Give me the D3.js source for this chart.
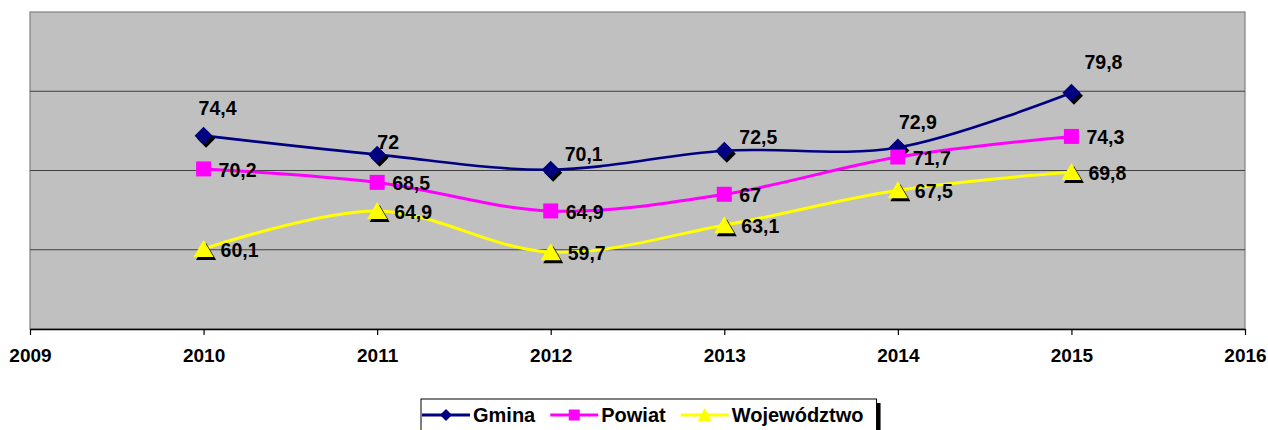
<!DOCTYPE html>
<html>
<head>
<meta charset="utf-8">
<script src="https://cdn.jsdelivr.net/npm/d3@7"></script>
<style>
  body { margin: 0; background: #fff; }
  svg { display: block; font-family: Arial, "Liberation Sans", sans-serif; }
</style>
</head>
<body>
<svg id="chart" width="1268" height="430"></svg>
<script>
// data
var years = [2010, 2011, 2012, 2013, 2014, 2015];
var gmina = [74.4, 72, 70.1, 72.5, 72.9, 79.8];
var powiat = [70.2, 68.5, 64.9, 67, 71.7, 74.3];
var wojewodztwo = [60.1, 64.9, 59.7, 63.1, 67.5, 69.8];
var seriesNames = ["Gmina", "Powiat", "Województwo"];
var xTicks = [2009, 2010, 2011, 2012, 2013, 2014, 2015, 2016];
var yGrid = [60, 70, 80];

// gmina labels were moved by hand in the original, nudges in px
var gminaNudge = [[14, -28], [11, -13], [33, -16], [34, -14], [20, -26], [32, -31]];

var svg = d3.select("svg#chart"),
    margin = { top: 12, right: 23, bottom: 101, left: 30 },
    width = 1268 - margin.left - margin.right,
    height = 430 - margin.top - margin.bottom,
    g = svg.append("g").attr("transform", "translate(" + margin.left + "," + margin.top + ")");

var x = d3.scaleLinear().domain([2009, 2016]).range([0, width]);
var y = d3.scaleLinear().domain([50, 90]).range([height, 0]);

var fmt = function (v) { return String(v).replace(".", ","); };

// plot area
g.append("rect")
    .attr("x", 0).attr("y", 0)
    .attr("width", width).attr("height", height)
    .attr("fill", "#c0c0c0")
    .attr("stroke", "#808080")
    .attr("stroke-width", 1.2);

g.selectAll(".grid")
    .data(yGrid)
    .enter().append("line")
    .attr("class", "grid")
    .attr("x1", 0).attr("x2", width)
    .attr("y1", function (d) { return y(d); })
    .attr("y2", function (d) { return y(d); })
    .attr("stroke", "#404040")
    .attr("stroke-width", 1.2);

var xAxis = g.append("g")
    .attr("transform", "translate(0," + height + ")")
    .call(d3.axisBottom(x).tickValues(xTicks).tickFormat(d3.format("d")).tickSize(6).tickSizeOuter(0));
xAxis.select(".domain").attr("stroke", "#000").attr("stroke-width", 1.5);
xAxis.selectAll(".tick line").attr("stroke", "#000").attr("stroke-width", 1.2);
xAxis.selectAll("text")
    .attr("y", 20)
    .attr("fill", "#000")
    .style("font", "bold 19px Arial, 'Liberation Sans', sans-serif");

var series = [
    { name: seriesNames[0], values: gmina, color: "#000080", width: 2.6, marker: "diamond" },
    { name: seriesNames[1], values: powiat, color: "#ff00ff", width: 3, marker: "square" },
    { name: seriesNames[2], values: wojewodztwo, color: "#ffff00", width: 3, marker: "triangle" }
];

var markerPath = {
    diamond: "M0,-9L9,0L0,9L-9,0Z",
    square: "M-7.5,-7.5H7.5V7.5H-7.5Z",
    triangle: "M0,-9L10,8L-10,8Z"
};
var smallPath = {
    diamond: "M0,-6L6,0L0,6L-6,0Z",
    square: "M-5.5,-5.5H5.5V5.5H-5.5Z",
    triangle: "M0,-7L7,6L-7,6Z"
};

var line = d3.line()
    .x(function (d) { return x(d.year); })
    .y(function (d) { return y(d.value); })
    .curve(d3.curveCatmullRom.alpha(0));

series.forEach(function (s, si) {
    var pts = years.map(function (yr, i) { return { year: yr, value: s.values[i], i: i }; });
    var sg = g.append("g").attr("class", "serie");

    sg.append("path")
        .datum(pts)
        .attr("d", line)
        .attr("fill", "none")
        .attr("stroke", s.color)
        .attr("stroke-width", s.width);

    var m = sg.selectAll(".mark")
        .data(pts)
        .enter().append("g")
        .attr("class", "mark")
        .attr("transform", function (d) { return "translate(" + x(d.year) + "," + y(d.value) + ")"; });

    if (s.marker !== "square") {
        m.append("path")
            .attr("d", markerPath[s.marker])
            .attr("transform", "translate(2.5,3)")
            .attr("fill", "#000");
    }
    m.append("path")
        .attr("d", markerPath[s.marker])
        .attr("fill", s.color);
});

// data labels on top of everything
series.forEach(function (s, si) {
    g.append("g").selectAll("text")
        .data(s.values)
        .enter().append("text")
        .attr("x", function (d, i) {
            if (si === 0) return x(years[i]) + gminaNudge[i][0];
            return x(years[i]) + (si === 1 ? 15 : 17);
        })
        .attr("y", function (d, i) {
            if (si === 0) return y(d) + gminaNudge[i][1];
            return y(d) + 1;
        })
        .attr("dy", "0.36em")
        .attr("text-anchor", si === 0 ? "middle" : "start")
        .attr("fill", "#000")
        .style("font", "bold 19.5px Arial, 'Liberation Sans', sans-serif")
        .text(fmt);
});

// legend
var lx = 421, ly = 399, lh = 40;
var legend = svg.append("g");
var shadow = legend.append("rect").attr("fill", "#000");
var box = legend.append("rect").attr("fill", "#fff").attr("stroke", "#000").attr("stroke-width", 1);

var cx = lx + 1, cy = ly + 16;
series.forEach(function (s, si) {
    var it = legend.append("g");
    it.append("line")
        .attr("x1", cx).attr("x2", cx + 48)
        .attr("y1", cy).attr("y2", cy)
        .attr("stroke", s.color)
        .attr("stroke-width", 3);
    it.append("path")
        .attr("d", smallPath[s.marker])
        .attr("transform", "translate(" + (cx + 24) + "," + cy + ")")
        .attr("fill", s.color);
    var t = it.append("text")
        .attr("x", cx + 51)
        .attr("y", cy)
        .attr("dy", "0.36em")
        .attr("fill", "#000")
        .style("font", "bold 20px Arial, 'Liberation Sans', sans-serif")
        .text(s.name);
    cx = cx + 51 + t.node().getComputedTextLength() + 15;
});
var lw = cx - 15 + 13 - lx;
box.attr("x", lx).attr("y", ly).attr("width", lw).attr("height", lh);
shadow.attr("x", lx + 4).attr("y", ly + 4).attr("width", lw).attr("height", lh);
</script>
</body>
</html>
